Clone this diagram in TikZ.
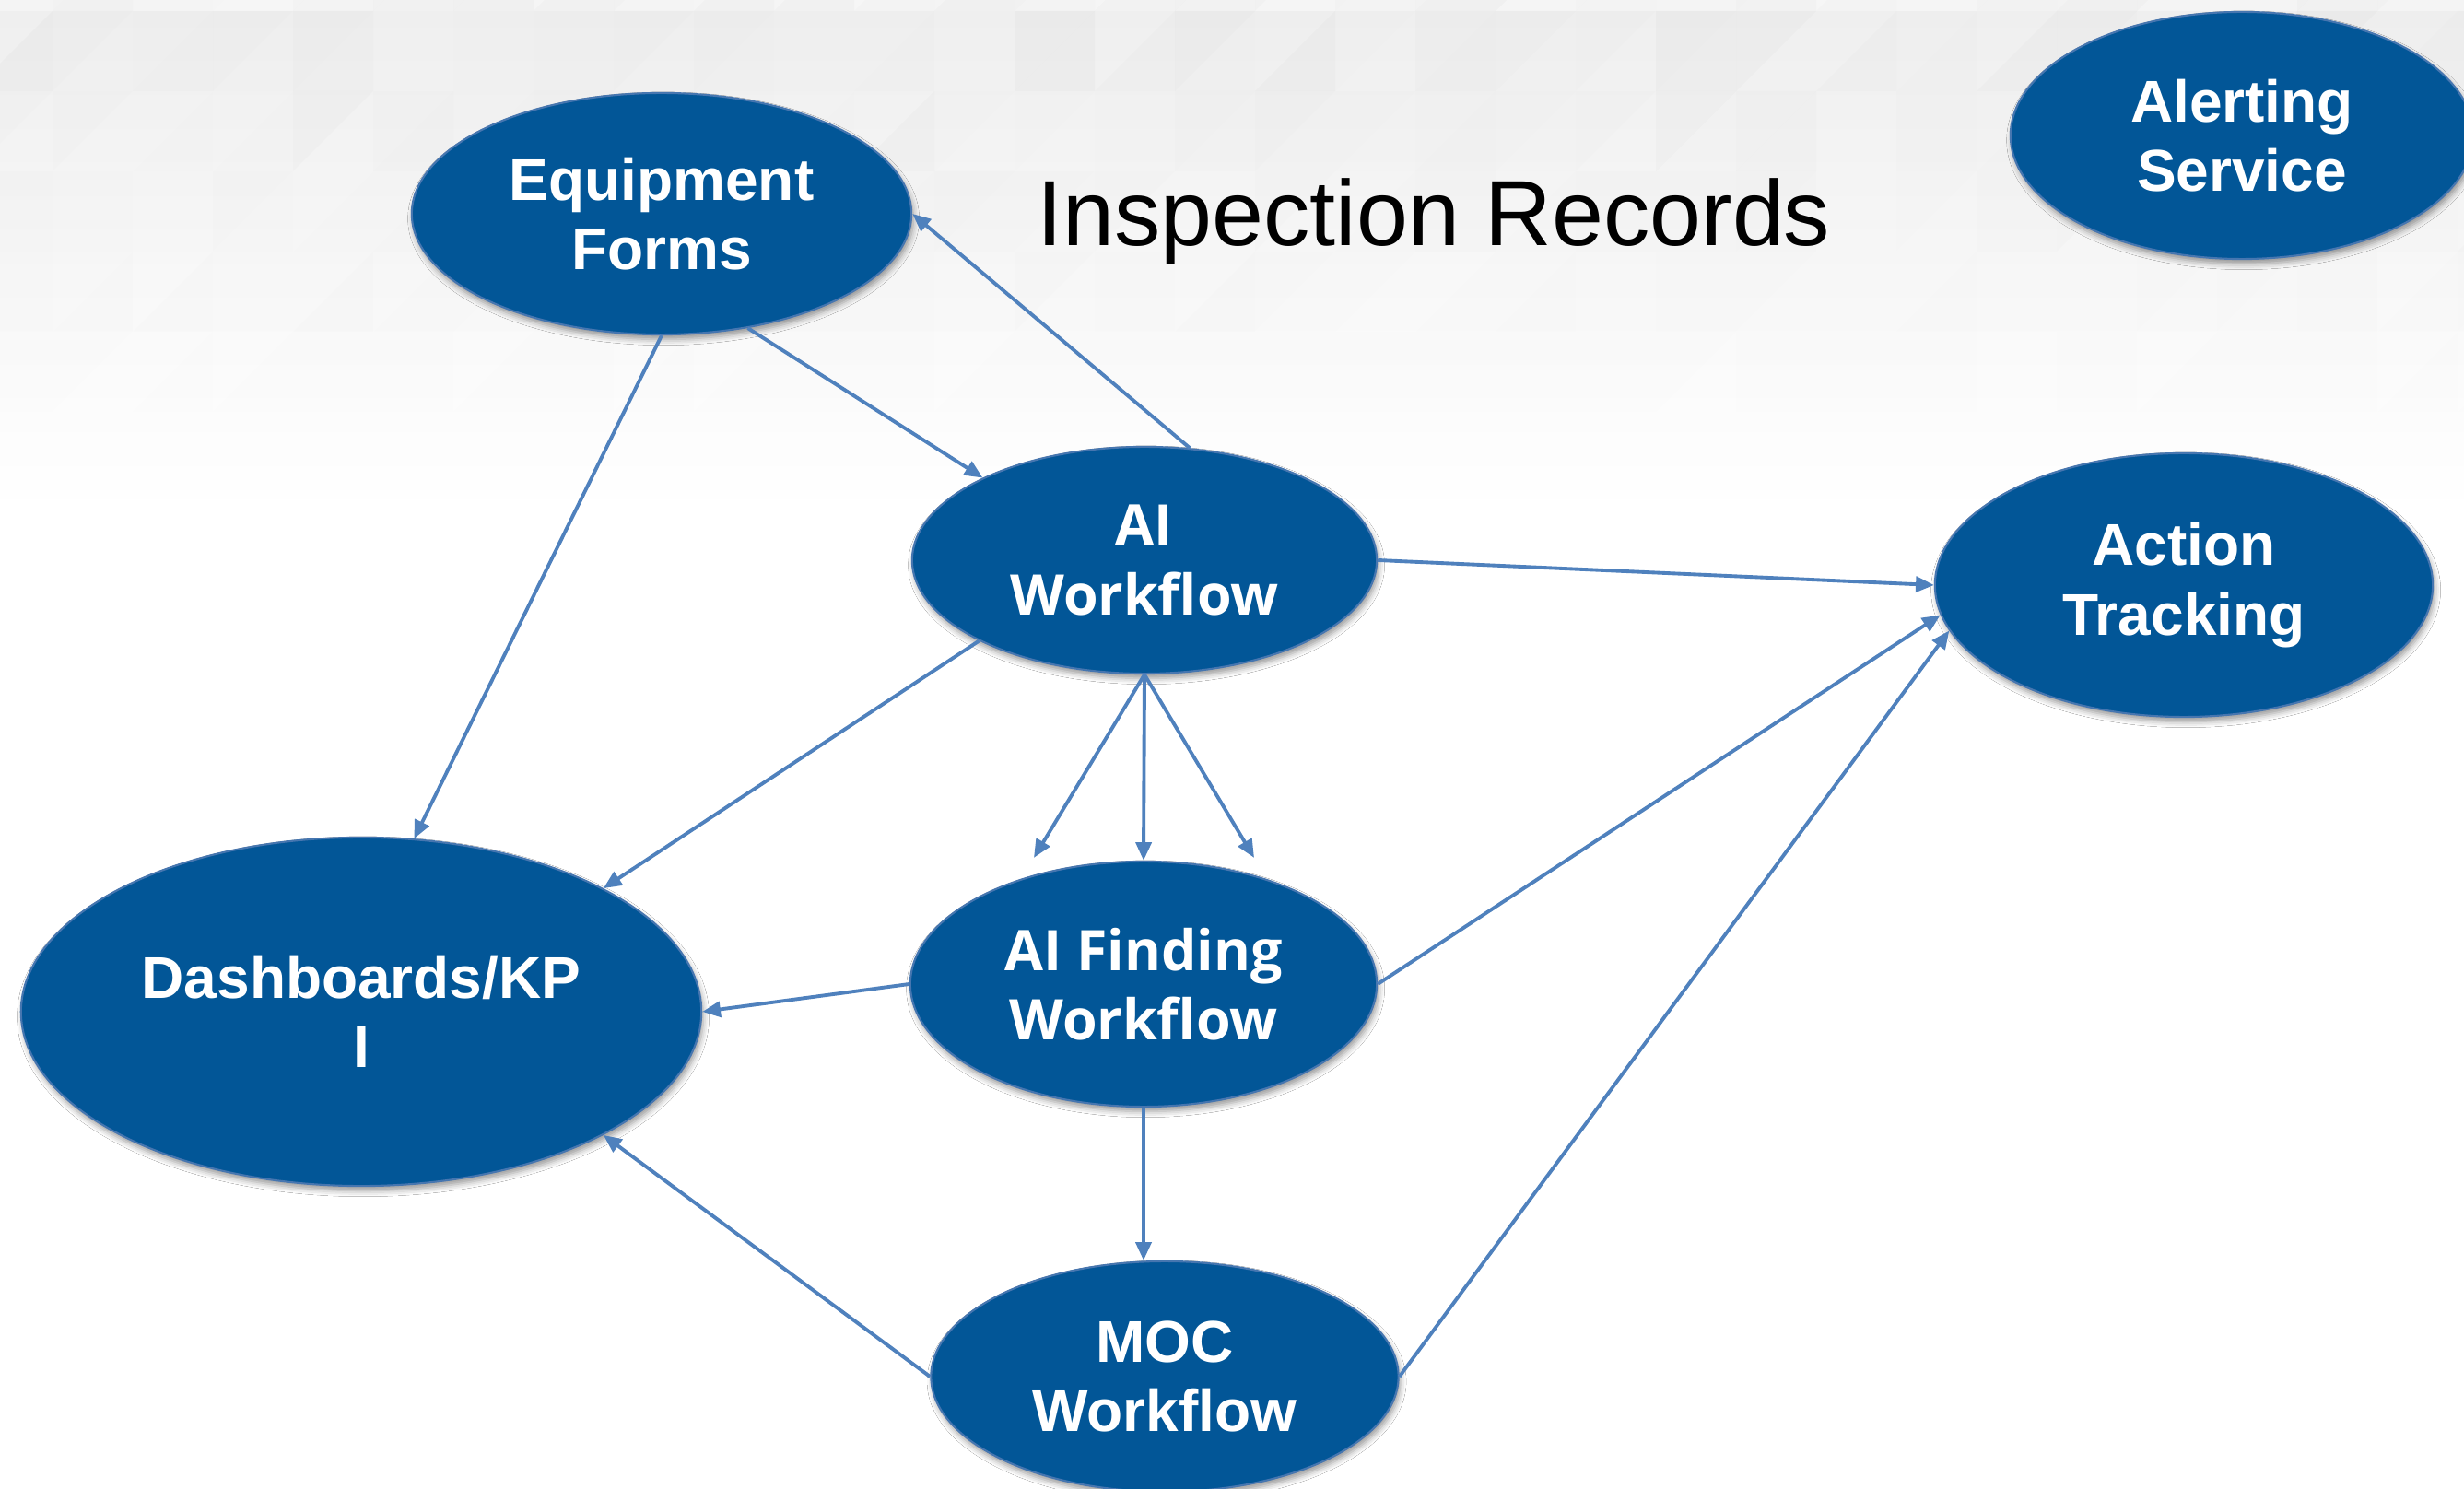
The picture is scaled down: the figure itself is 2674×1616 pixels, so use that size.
\documentclass[tikz,border=0pt]{standalone}
\usepackage{fontspec}
\setmainfont{Liberation Sans}
\newfontfamily\segoe{Open Sans}
\usetikzlibrary{shapes.geometric,arrows.meta,shadows.blur,calc}
\definecolor{nodeblue}{RGB}{2,86,151}
\definecolor{rimblue}{RGB}{70,118,176}
\definecolor{arrowblue}{RGB}{79,129,189}
\tikzset{
  bubble/.style={ellipse, fill=nodeblue, draw=rimblue, line width=0.6pt,
    text=white, align=center, inner sep=0pt,
    font={\bfseries\fontsize{18.2}{21.5}\selectfont},
    blur shadow={shadow xshift=0.6pt, shadow yshift=-1.5pt, shadow blur radius=1.8pt, shadow opacity=40}},
  segbubble/.style={bubble, font={\segoe\bfseries\fontsize{17.3}{21.5}\selectfont}},
  link/.style={draw=arrowblue, line width=1.1pt, -{Triangle[length=5.6pt,width=4.8pt]}},
  titletext/.style={font={\fontsize{28.6}{34}\selectfont}, text=black, inner sep=0pt, anchor=base}
}
\begin{document}
\begin{tikzpicture}[x=0.01cm,y=-0.01cm]
\useasboundingbox (0,0) rectangle (2674,1616);
\fill[white] (0,0) rectangle (2674,1616);
% background facets
\fill[top color=black!6, bottom color=white] (0,0) rectangle (2674,560);
\fill[black!3] (0,0) rectangle (2674,12);
\pgfmathsetseed{42}
\begin{scope}
\clip (0,0) rectangle (2674,1616);
\foreach \i in {0,...,31} {
  \foreach \j in {0,...,6} {
    \pgfmathsetmacro\xa{57+87*(\i-1)}
    \pgfmathsetmacro\ya{12+87*(\j-1)}
    \pgfmathsetmacro\fade{max(0,1-(\ya+43)/520)}
    \pgfmathsetmacro\oa{(0.004+0.022*rnd)*\fade}
    \pgfmathsetmacro\ob{(0.004+0.022*rnd)*\fade}
    \fill[black,opacity=\oa] (\xa,\ya+87) -- (\xa+87,\ya) -- (\xa,\ya) -- cycle;
    \fill[black,opacity=\ob] (\xa,\ya+87) -- (\xa+87,\ya) -- (\xa+87,\ya+87) -- cycle;
  }
}
\end{scope}

% nodes
\node[bubble, minimum width=5.42cm, minimum height=2.62cm] (EF) at (718,232) {Equipment\\Forms};
\node[segbubble, minimum width=5.04cm, minimum height=2.46cm] (AIW) at (1242,608) {AI\\Workflow};
\node[bubble, minimum width=5.40cm, minimum height=2.86cm] (AT) at (2370,635) {Action\\Tracking};
\node[bubble, minimum width=5.02cm, minimum height=2.68cm] (AS) at (2433,147) {Alerting\\Service};
\node[bubble, minimum width=7.38cm, minimum height=3.78cm] (DB) at (392,1098) {Dashboards/KP\\I};
\node[segbubble, minimum width=5.06cm, minimum height=2.66cm] (AIF) at (1241,1068) {AI Finding\\Workflow};
\node[bubble, minimum width=5.07cm, minimum height=2.50cm] (MOC) at (1264,1494) {MOC\\Workflow};

\node[titletext] (title) at (1556,267) {Inspection Records};

% free ends
\coordinate (fl) at ($(AIF.north)+(-119,-3)$);
\coordinate (fr) at ($(AIF.north)+(120,-3)$);
\coordinate (mtop) at (AIF.south |- MOC.north);

% connectors
\draw[link] (EF.-53) -- (AIW.153);
\draw[link] (AIW.68) -- (EF.east);
\draw[link] (EF.south) -- (DB.73);
\draw[link] (AIW.206) -- (DB.27);
\draw[link] (AIW.east) -- (AT.west);
\draw[link] (AIW.south) -- (fl);
\draw[link] (AIW.south) -- (AIF.north);
\draw[link] (AIW.south) -- (fr);
\draw[link] (AIF.west) -- (DB.east);
\draw[link] (AIF.east) -- (AT.187);
\draw[link] (AIF.south) -- (mtop);
\draw[link] (MOC.west) -- (DB.-27.4);
\draw[link] (MOC.east) -- (AT.191);
\end{tikzpicture}
\end{document}
